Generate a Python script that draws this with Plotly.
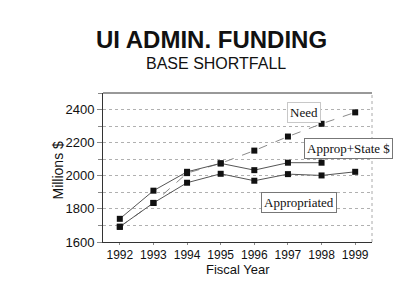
import plotly.graph_objects as go

years = [1992, 1993, 1994, 1995, 1996, 1997, 1998, 1999]
need = [1692, 1836, 2016, 2075, 2152, 2237, 2314, 2383]
approp_state = [1740, 1910, 2024, 2075, 2034, 2079, 2079, None]
appropriated = [1692, 1836, 1958, 2012, 1970, 2010, 2002, 2024]
y_ticks = [1600, 1800, 2000, 2200, 2400]

fig = go.Figure()
fig.add_trace(go.Scatter(x=years, y=need, mode="lines+markers", name="Need",
                         line=dict(color="#8a8a8a", width=1, dash="dash"),
                         marker=dict(symbol="square", size=6, color="#111")))
fig.add_trace(go.Scatter(x=years, y=approp_state, mode="lines+markers", name="Approp+State $",
                         line=dict(color="#555", width=1),
                         marker=dict(symbol="square", size=6, color="#111")))
fig.add_trace(go.Scatter(x=years, y=appropriated, mode="lines+markers", name="Appropriated",
                         line=dict(color="#555", width=1),
                         marker=dict(symbol="square", size=6, color="#111")))

serif = "Liberation Serif, Times New Roman, serif"
sans = "Liberation Sans, Arial, sans-serif"

fig.update_layout(
    width=400, height=302,
    margin=dict(l=103, r=28, t=93, b=60),
    paper_bgcolor="white", plot_bgcolor="white",
    showlegend=False,
    font=dict(family=sans, color="#111"),
    xaxis=dict(range=[1991.5, 1999.5], tickmode="array", tickvals=years,
               ticktext=[str(y) for y in years], showgrid=False,
               showline=True, linecolor="#333", linewidth=1, mirror=False,
               ticks="outside", ticklen=2, tickcolor="#888",
               tickfont=dict(size=12, family=sans, color="#111"), zeroline=False),
    yaxis=dict(range=[1600, 2500], tickmode="array", tickvals=y_ticks,
               ticktext=[str(v) for v in y_ticks],
               showgrid=True, gridcolor="#b0b0b0", griddash="dot", gridwidth=1,
               minor=dict(dtick=100, showgrid=True, gridcolor="#b0b0b0", griddash="dot",
                          ticks="outside", ticklen=4, tickcolor="#888"),
               showline=True, linecolor="#333", linewidth=1,
               ticks="outside", ticklen=5, tickcolor="#888",
               tickfont=dict(size=13, family=sans, color="#111"), zeroline=False),
)

# plot frame: solid top, dotted right
fig.add_shape(type="line", xref="paper", yref="paper", x0=0, x1=1, y0=1, y1=1,
              line=dict(color="#333", width=1))
fig.add_shape(type="line", xref="paper", yref="paper", x0=1, x1=1, y0=0, y1=1,
              line=dict(color="#aaa", width=1, dash="dot"))

# titles
fig.add_annotation(text="<b>UI ADMIN. FUNDING</b>", xref="paper", yref="paper",
                   x=0.404, y=1.36, xanchor="center", yanchor="middle", showarrow=False,
                   font=dict(size=24, family=sans, color="#111"))
fig.add_annotation(text="BASE SHORTFALL", xref="paper", yref="paper",
                   x=0.421, y=1.2, xanchor="center", yanchor="middle", showarrow=False,
                   font=dict(size=16, family=sans, color="#111"))
fig.add_annotation(text="Fiscal Year", xref="paper", yref="paper",
                   x=0.503, y=-0.185, xanchor="center", yanchor="middle", showarrow=False,
                   font=dict(size=13, family=sans, color="#111"))
fig.add_annotation(text="Millions $", xref="paper", yref="paper", textangle=-90,
                   x=-0.166, y=0.482, xanchor="center", yanchor="middle", showarrow=False,
                   font=dict(size=14, family=sans, color="#111"))

# series labels
fig.add_annotation(text="Need", x=1997.49, y=2382, showarrow=False,
                   xanchor="center", yanchor="middle",
                   font=dict(size=13, family=serif, color="#111"),
                   bordercolor="#c8c8c8", borderwidth=1, borderpad=2, bgcolor="white")
fig.add_annotation(text="Approp+State $", x=1998.79, y=2164, showarrow=False,
                   xanchor="center", yanchor="middle",
                   font=dict(size=13, family=serif, color="#111"),
                   bordercolor="#777", borderwidth=1, borderpad=2, bgcolor="white")
fig.add_annotation(text="Appropriated", x=1997.33, y=1837, showarrow=False,
                   xanchor="center", yanchor="middle",
                   font=dict(size=13, family=serif, color="#111"),
                   bordercolor="#777", borderwidth=1, borderpad=2, bgcolor="white")

fig.write_html("out.html")
